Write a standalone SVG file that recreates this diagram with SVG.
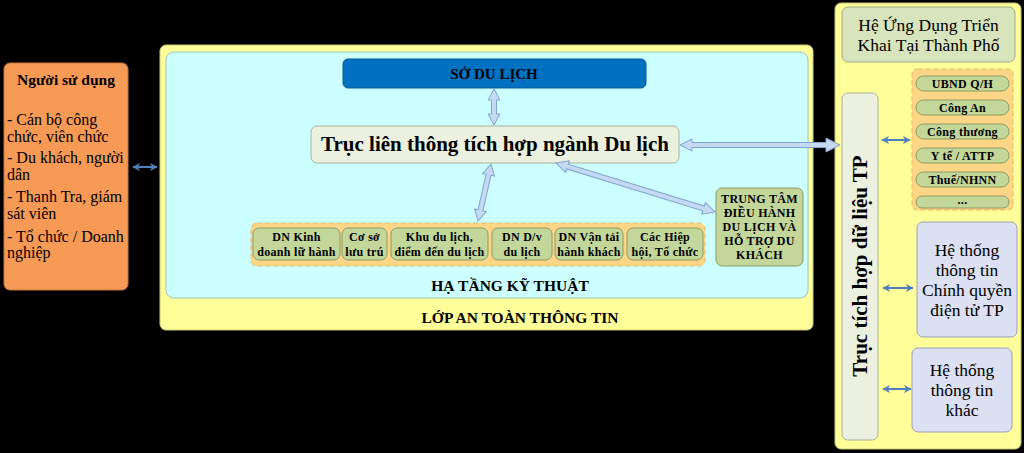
<svg xmlns="http://www.w3.org/2000/svg" width="1024" height="453" viewBox="0 0 1024 453">
<style>
text{font-family:"Liberation Serif","Times New Roman",serif;fill:#000}
.b{font-weight:bold}
.c{text-anchor:middle}
.olive{fill:#c4d79b;stroke:#8c9a62;stroke-width:1}
.grp{fill:#fcd585;stroke:#e8b860;stroke-width:1;stroke-dasharray:5,3}
.blk{fill:#c6d9f1;stroke:#7fa3d6;stroke-width:1}
.thin{stroke:#4f81bd;stroke-width:2;fill:none;marker-start:url(#ah);marker-end:url(#ah)}
.s12{font-size:12px;letter-spacing:0.3px}
</style>
<defs>
<marker id="ah" viewBox="0 0 10 10" refX="9" refY="5" markerWidth="4" markerHeight="4" orient="auto-start-reverse" markerUnits="strokeWidth">
<path d="M0,0 L10,5 L0,10 L3,5 z" fill="#4f81bd"/>
</marker>
</defs>
<rect x="0" y="0" width="1024" height="453" fill="#000"/>

<g id="nguoi-su-dung">
<rect x="4" y="63" width="124" height="227" rx="6" fill="#f79a55" stroke="#c8743a"/>
<text x="66" y="85" class="b c" font-size="15.5">Người sử dụng</text>
<g font-size="16">
<text x="7" y="125">- Cán bộ công</text>
<text x="7" y="142">chức, viên chức</text>
<text x="7" y="163">- Du khách, người</text>
<text x="7" y="180">dân</text>
<text x="7" y="202">- Thanh Tra, giám</text>
<text x="7" y="219">sát viên</text>
<text x="7" y="242">- Tổ chức / Doanh</text>
<text x="7" y="258">nghiệp</text>
</g>
</g>

<g id="lop-an-toan">
<rect x="160" y="45" width="653" height="285" rx="6" fill="#ffff99" stroke="#c8c878"/>
<text x="520" y="323" class="b c" font-size="15.5">LỚP AN TOÀN THÔNG TIN</text>
</g>

<g id="ha-tang">
<rect x="166" y="52" width="642" height="246" rx="8" fill="#ccffff" stroke="#9cc4c4"/>
<text x="510" y="291" class="b c" font-size="15.5">HẠ TẦNG KỸ THUẬT</text>
</g>

<g id="so-du-lich">
<rect x="343" y="59" width="303" height="29" rx="5" fill="#0070c0" stroke="#0a5a9a"/>
<text x="494" y="79" class="b c" font-size="15">SỞ DU LỊCH</text>
</g>

<g id="truc-lien-thong">
<rect x="311" y="126" width="368" height="37" rx="6" fill="#ebf1de" stroke="#a8b09a"/>
<text x="495" y="151" class="b c" font-size="21">Trục liên thông tích hợp ngành Du lịch</text>
</g>

<g id="doanh-nghiep">
<rect class="grp" x="251" y="223" width="454" height="43" rx="6"/>
<rect class="olive" x="253" y="228" width="87" height="32" rx="6"/>
<text x="296.5" y="241" class="b c s12">DN Kinh</text>
<text x="296.5" y="256" class="b c s12">doanh lữ hành</text>
<rect class="olive" x="342" y="228" width="45" height="32" rx="6"/>
<text x="364.5" y="241" class="b c s12">Cơ sở</text>
<text x="364.5" y="256" class="b c s12">lưu trú</text>
<rect class="olive" x="391" y="228" width="97" height="32" rx="6"/>
<text x="439.5" y="241" class="b c s12">Khu du lịch,</text>
<text x="439.5" y="256" class="b c s12">điểm đến du lịch</text>
<rect class="olive" x="492" y="228" width="60" height="32" rx="6"/>
<text x="522" y="241" class="b c s12">DN D/v</text>
<text x="522" y="256" class="b c s12">du lịch</text>
<rect class="olive" x="555" y="228" width="68" height="32" rx="6"/>
<text x="589" y="241" class="b c s12">DN Vận tải</text>
<text x="589" y="256" class="b c s12">hành khách</text>
<rect class="olive" x="627" y="228" width="76" height="32" rx="6"/>
<text x="665" y="241" class="b c s12">Các Hiệp</text>
<text x="665" y="256" class="b c s12">hội, Tổ chức</text>
</g>

<g id="trung-tam">
<rect class="olive" x="716" y="188" width="87" height="78" rx="6"/>
<text x="759.5" y="203" class="b c s12">TRUNG TÂM</text>
<text x="759.5" y="217" class="b c s12">ĐIỀU HÀNH</text>
<text x="759.5" y="231" class="b c s12">DU LỊCH VÀ</text>
<text x="759.5" y="245" class="b c s12">HỖ TRỢ DU</text>
<text x="759.5" y="259" class="b c s12">KHÁCH</text>
</g>

<g id="thanh-pho">
<rect x="835" y="3" width="186" height="446" rx="6" fill="#ffff99" stroke="#c8c878"/>
</g>

<g id="he-ung-dung">
<rect x="842" y="7" width="173" height="55" rx="6" fill="#d8e4bc" stroke="#a0a88a"/>
<text x="928.5" y="31" class="c" font-size="17.5">Hệ Ứng Dụng Triển</text>
<text x="928.5" y="51" class="c" font-size="17.5">Khai Tại Thành Phố</text>
</g>

<g id="co-quan">
<rect class="grp" x="912" y="69" width="101" height="141" rx="5"/>
<rect class="olive" x="916" y="76" width="93" height="15" rx="7.5"/>
<text x="962.5" y="87.5" class="b c s12">UBND Q/H</text>
<rect class="olive" x="916" y="100" width="93" height="15" rx="7.5"/>
<text x="962.5" y="111.5" class="b c s12">Công An</text>
<rect class="olive" x="916" y="124" width="93" height="15" rx="7.5"/>
<text x="962.5" y="135.5" class="b c s12">Công thương</text>
<rect class="olive" x="916" y="148" width="93" height="15" rx="7.5"/>
<text x="962.5" y="159.5" class="b c s12">Y tế / ATTP</text>
<rect class="olive" x="916" y="172" width="93" height="15" rx="7.5"/>
<text x="962.5" y="183.5" class="b c s12">Thuế/NHNN</text>
<rect class="olive" x="916" y="196" width="93" height="12" rx="6"/>
<text x="962.5" y="204" class="b c s12">...</text>
</g>

<g id="truc-tich-hop">
<rect x="842" y="93" width="36" height="347" rx="6" fill="#ebf1de" stroke="#a8b09a"/>
<text x="0" y="0" class="b c" font-size="21" transform="translate(867,266) rotate(-90)">Trục tích hợp dữ liệu TP</text>
</g>

<g id="chinh-quyen">
<rect x="917" y="222" width="100" height="115" rx="6" fill="#dbe0f2" stroke="#9aa0b8"/>
<text x="967" y="256" class="c" font-size="17.5">Hệ thống</text>
<text x="967" y="276" class="c" font-size="17.5">thông tin</text>
<text x="967" y="296" class="c" font-size="17.5">Chính quyền</text>
<text x="967" y="316" class="c" font-size="17.5">điện tử TP</text>
</g>

<g id="he-thong-khac">
<rect x="912" y="348" width="100" height="84" rx="6" fill="#dbe0f2" stroke="#9aa0b8"/>
<text x="962" y="376" class="c" font-size="17.5">Hệ thống</text>
<text x="962" y="396" class="c" font-size="17.5">thông tin</text>
<text x="962" y="416" class="c" font-size="17.5">khác</text>
</g>

<g id="connectors">
<line class="thin" x1="133" y1="167" x2="157" y2="167"/>
<line class="thin" x1="882" y1="140" x2="910" y2="140"/>
<line class="thin" x1="883" y1="288" x2="913" y2="288"/>
<line class="thin" x1="883" y1="389" x2="911" y2="389"/>
<polygon class="blk" transform="translate(494,89) rotate(90)" points="0,0 11,-6 11,-2.5 25,-2.5 25,-6 36,0 25,6 25,2.5 11,2.5 11,6"/>
<polygon class="blk" transform="translate(491,164) rotate(102.8)" points="0,0 11,-6 11,-2.5 47.5,-2.5 47.5,-6 58.5,0 47.5,6 47.5,2.5 11,2.5 11,6"/>
<polygon class="blk" transform="translate(556,163) rotate(17.1)" points="0,0 12,-6 12,-2.5 154.4,-2.5 154.4,-6 166.4,0 154.4,6 154.4,2.5 12,2.5 12,6"/>
<polygon class="blk" transform="translate(680,145)" points="0,0 12,-6 12,-2.5 146,-2.5 146,-7 160,0 146,7 146,2.5 12,2.5 12,6"/>
</g>
</svg>
